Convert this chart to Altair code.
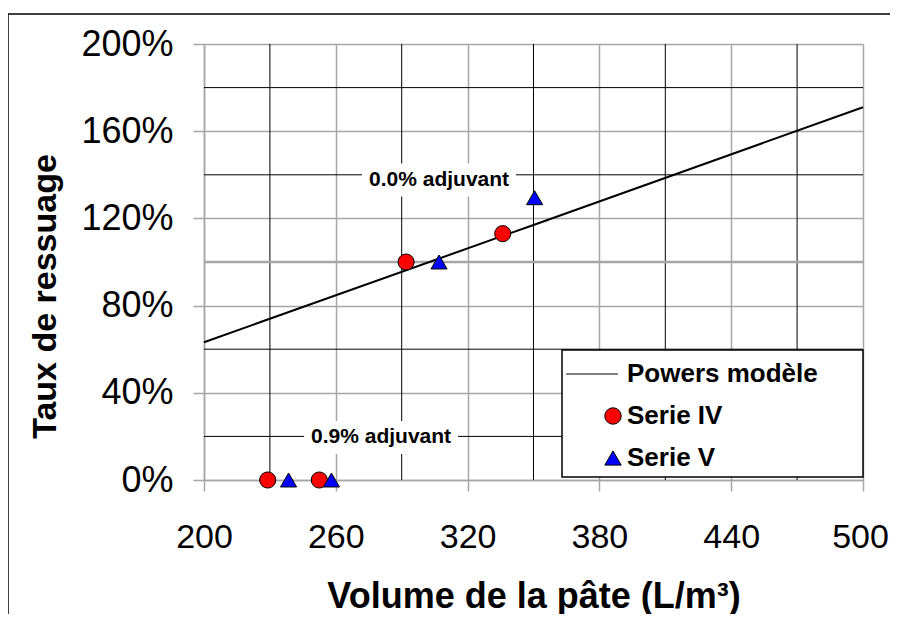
import altair as alt
import pandas as pd

FONT = "Liberation Sans"

# ---- data ----
x_ticks = [200, 260, 320, 380, 440, 500]
y_ticks = [0, 40, 80, 120, 160, 200]
x_minor = [230, 290, 350, 410, 470]
y_minor = [20, 60, 140, 180]
y_mid = [100]

series_names = ["Powers modèle", "Serie IV", "Serie V"]
serie4_x = [229, 252.5, 292, 336]
serie4_y = [0, 0, 100, 113]
serie5_x = [238.5, 258, 307, 350.5]
serie5_y = [0, 0, 100, 129.5]
model_x = [200, 350, 500]
model_y = [63.2, 117, 171]

notes = ["0.0% adjuvant", "0.9% adjuvant"]
notes_x = [307, 280.6]
notes_y = [137.6, 19.5]

# ---- tables ----
pts = pd.DataFrame({
    "x": serie4_x + serie5_x,
    "y": serie4_y + serie5_y,
    "series": ["Serie IV"] * len(serie4_x) + ["Serie V"] * len(serie5_x),
})
model = pd.DataFrame({"x": model_x, "y": model_y})
vx = pd.DataFrame({"x": x_minor})
hy = pd.DataFrame({"y": y_minor})
my = pd.DataFrame({"y": y_mid})
ann = pd.DataFrame({"label": notes, "x": notes_x, "y": notes_y})
one = pd.DataFrame({"k": [0]})

xs = alt.Scale(domain=[200, 500], nice=False, zero=False)
ys = alt.Scale(domain=[0, 200], nice=False)

GRID = "#a6a6a6"

x_axis = alt.Axis(
    values=x_ticks, title="Volume de la pâte (L/m³)",
    grid=True, gridColor=GRID, gridWidth=1.5,
    domainColor=GRID, domainWidth=1.5,
    tickColor=GRID, tickWidth=1.5, tickSize=11,
    labelFont=FONT, labelFontSize=34, labelColor="black", labelPadding=29,
    labelFlush=False, labelOverlap=False,
    labelOffset={"condition": {"test": "datum.value === 500", "value": -3}, "value": 0},
    titleFont=FONT, titleFontSize=36, titleFontWeight="bold", titleColor="black",
    titleY=127, titleBaseline="alphabetic",
)
y_axis = alt.Axis(
    values=y_ticks, title="Taux de ressuage", labelExpr="datum.value + '%'",
    grid=True, gridColor=GRID, gridWidth=1.5,
    domainColor=GRID, domainWidth=1.5,
    tickColor=GRID, tickWidth=1.5, tickSize=11,
    labelFont=FONT, labelFontSize=36, labelColor="black", labelPadding=20,
    labelOverlap=False,
    titleFont=FONT, titleFontSize=34, titleFontWeight="bold", titleColor="black",
    titleX=-149, titleY=252, titleBaseline="alphabetic", titleAngle=270,
)

vrules = alt.Chart(vx).mark_rule(color="black", strokeWidth=1).encode(
    x=alt.X("x:Q", scale=xs, axis=x_axis)
)
hrules = alt.Chart(hy).mark_rule(color="black", strokeWidth=1).encode(
    y=alt.Y("y:Q", scale=ys, axis=y_axis)
)
mrule = alt.Chart(my).mark_rule(color=GRID, strokeWidth=2.5).encode(
    y=alt.Y("y:Q", scale=ys)
)

boxes = alt.Chart(ann).mark_point(
    shape="M-1,-0.215H1V0.215H-1Z", size=23700, filled=True,
    fill="white", strokeWidth=0, opacity=1,
).encode(x=alt.X("x:Q", scale=xs), y=alt.Y("y:Q", scale=ys))

texts = alt.Chart(ann).mark_text(
    font=FONT, fontSize=21, fontWeight="bold", color="black",
    align="center", baseline="middle",
).encode(x=alt.X("x:Q", scale=xs), y=alt.Y("y:Q", scale=ys), text="label:N")

line = alt.Chart(model).mark_line(color="black", strokeWidth=2).encode(
    x=alt.X("x:Q", scale=xs), y=alt.Y("y:Q", scale=ys)
)

legend_box = alt.Chart(one).mark_rect(
    fill="white", stroke="black", strokeWidth=1.5
).encode(
    x=alt.value(358), x2=alt.value(659), y=alt.value(306), y2=alt.value(433)
)

leg = alt.Legend(
    title=None, orient="none", legendX=396, legendY=317,
    labelFont=FONT, labelFontSize=26, labelFontWeight="bold", labelColor="black",
    symbolSize=270, rowPadding=16, labelOffset=1, padding=0,
    symbolStrokeColor="black", symbolStrokeWidth=1, labelLimit=400,
)
line_path = "M-5.7,0H0.6"
points = alt.Chart(pts).mark_point(
    filled=True, size=260, stroke="black", strokeWidth=1, opacity=1
).encode(
    x=alt.X("x:Q", scale=xs),
    y=alt.Y("y:Q", scale=ys),
    color=alt.Color("series:N", scale=alt.Scale(domain=series_names,
                    range=["#000000", "#ff0000", "#0000ff"]), legend=leg),
    shape=alt.Shape("series:N", scale=alt.Scale(domain=series_names,
                    range=[line_path, "circle", "triangle-up"]), legend=leg),
)

border = alt.Chart(one).mark_rect(
    fill=None, stroke="black", strokeWidth=1.5
).encode(
    x=alt.value(-196), x2=alt.value(800), y=alt.value(-30), y2=alt.value(700)
)

chart = alt.layer(
    vrules, hrules, mrule, boxes, texts, line, legend_box, points, border
).properties(
    width=659, height=436,
    autosize=alt.AutoSizeParams(type="none"),
    padding={"left": 196, "top": 36, "right": 27, "bottom": 134},
    background="white",
).configure_view(stroke=None)

chart.save("out.html", embed_options={"renderer": "svg", "actions": False})
